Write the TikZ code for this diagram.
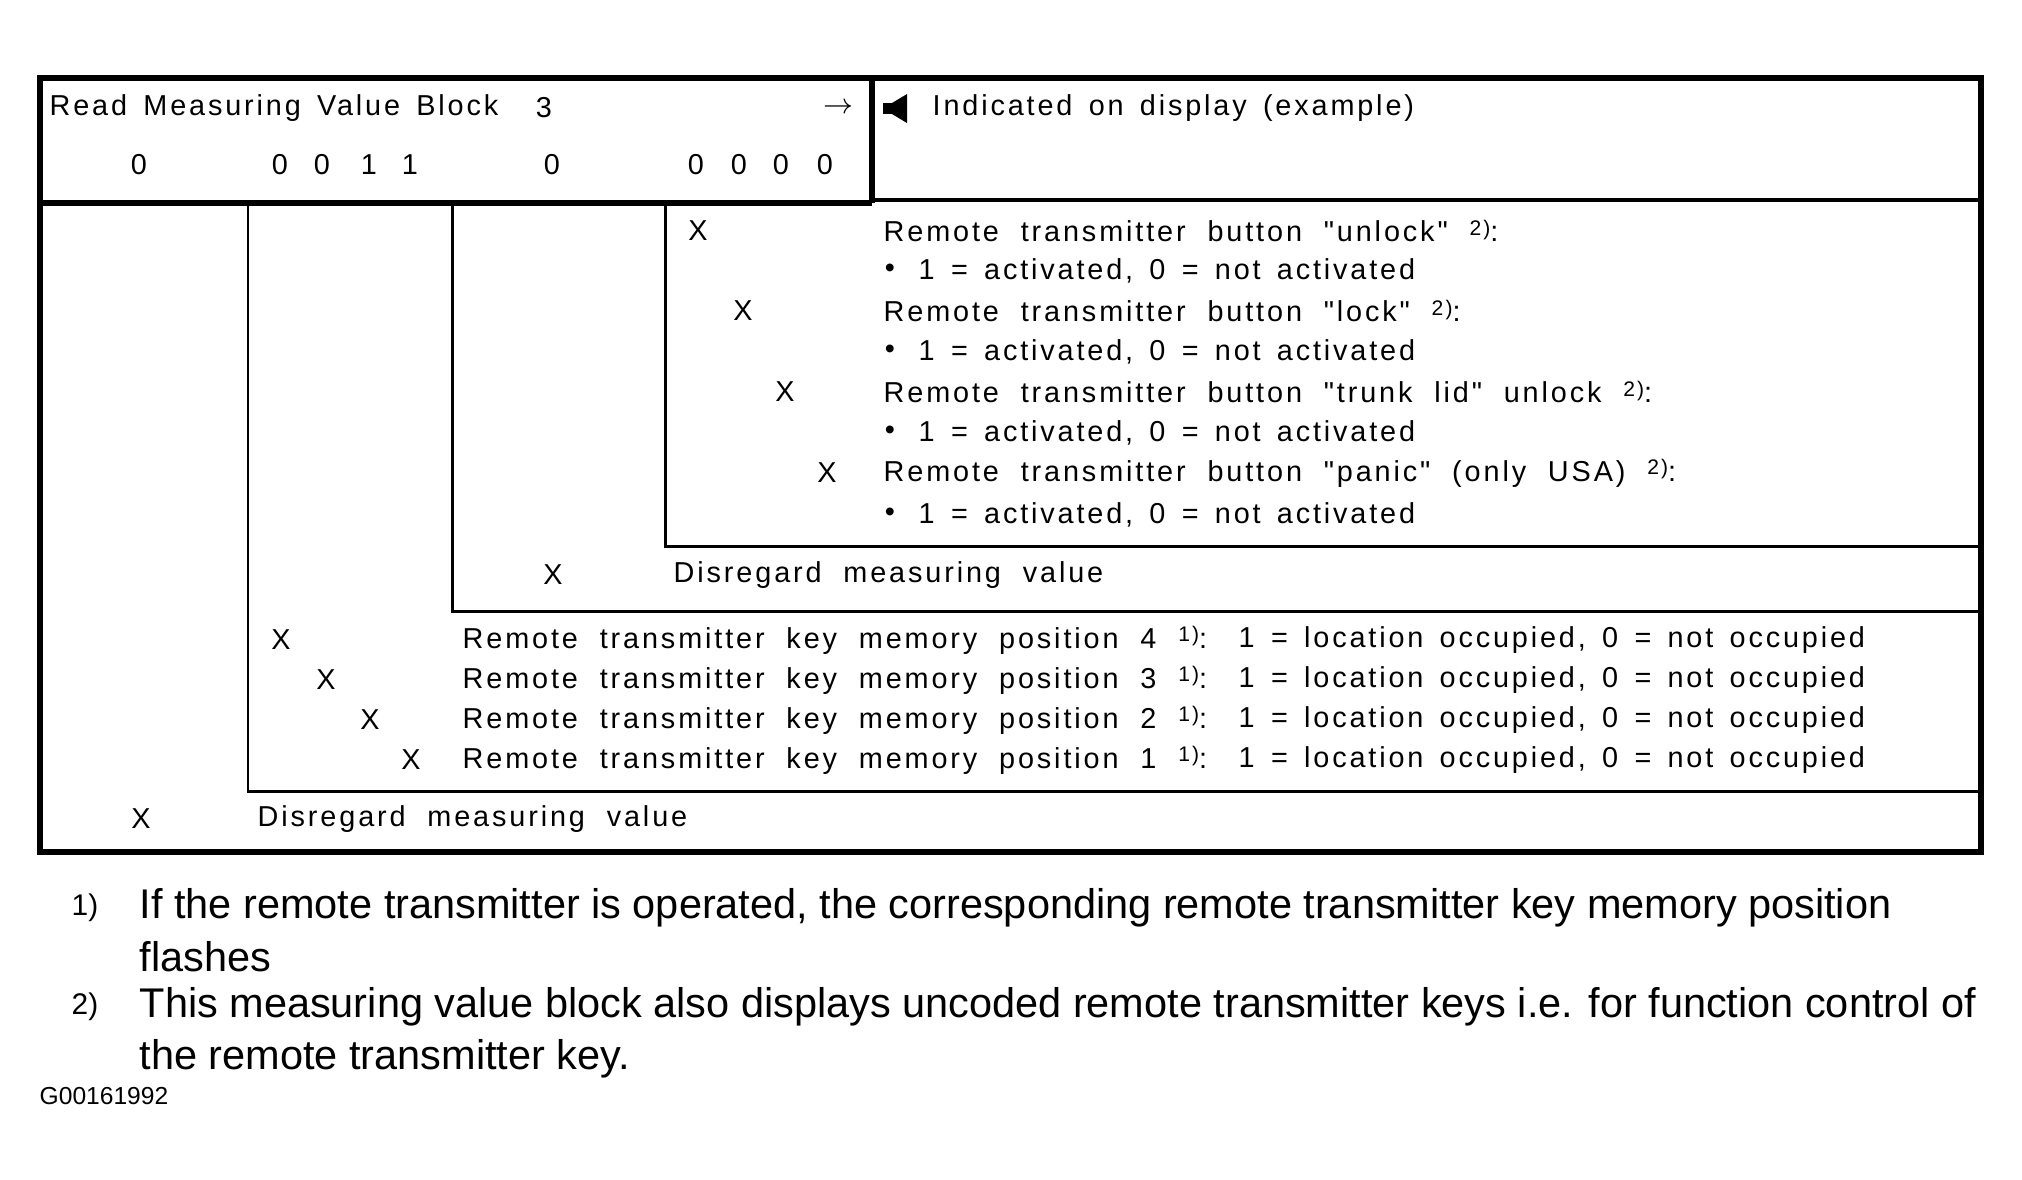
\documentclass[tikz,border=0pt]{standalone}
\usepackage{fontspec}
\setmainfont{Liberation Sans}
\newfontfamily\tabfont[LetterSpace=10,WordSpace=2]{Liberation Sans}
\newfontfamily\tabfontn[LetterSpace=9.9,WordSpace=1.5]{Liberation Sans}
\newcommand{\fnref}[1]{\raisebox{0.45ex}{\fontsize{6}{6}\selectfont #1}}

\begin{document}
\begin{tikzpicture}[>=latex,x=0.1mm,y=-0.1mm,
    tab/.style={font=\tabfont\fontsize{8.2}{10}\selectfont,inner sep=0pt,anchor=west},
    tabn/.style={font=\tabfontn\fontsize{8.2}{10}\selectfont,inner sep=0pt,anchor=west},
    xmark/.style={font=\tabfont\fontsize{8.2}{10}\selectfont,inner sep=0pt},
    note/.style={font=\fontsize{11.8}{14}\selectfont,inner sep=0pt,anchor=west},
    noteref/.style={font=\fontsize{8.5}{9}\selectfont,inner sep=0pt,anchor=west},
    boxline/.style={line width=1.7pt},
    sepline/.style={line width=0.85pt}]
  \useasboundingbox (0,0) rectangle (2022,1179);
  % frame and header
  \draw[boxline] (40,78) rectangle (1981,852);
  \draw[boxline] (40,203) -- (872,203);
  \draw[boxline] (872,78) -- (872,203);
  \draw[line width=1.1pt] (872,200) -- (1981,200);
  % nested brackets
  \draw[sepline] (248,203) -- (248,791) -- (1981,791);
  \draw[sepline] (452,203) -- (452,611) -- (1981,611);
  \draw[sepline] (665,203) -- (665,546) -- (1981,546);
  % header text
  \node[tabn] (title) at (49,108) {Read Measuring Value Block};
  \node[xmark] (blk) at (544,108) {3};
  \node[xmark] (arr) at (838,108) {$\rightarrow$};
  \node[xmark] (d1) at (139,165) {0};
  \node[xmark] (d2) at (280,165) {0};
  \node[xmark] (d3) at (322,165) {0};
  \node[xmark] (d4) at (369,165) {1};
  \node[xmark] (d5) at (410,165) {1};
  \node[xmark] (d6) at (552,165) {0};
  \node[xmark] (d7) at (696,165) {0};
  \node[xmark] (d8) at (739,165) {0};
  \node[xmark] (d9) at (781,165) {0};
  \node[xmark] (d10) at (825,165) {0};
  \fill (883,103) rectangle (893,114);
  \fill (892,103) -- (907,94) -- (907,123) -- (892,114) -- cycle;
  \node[tabn] (disp) at (932,108) {Indicated on display (example)};
  % buttons
  \node[xmark] (xa) at (698,231) {X};
  \node[tab] (unl) at (883,231) {Remote transmitter button "unlock" \fnref{2)}:};
  \node[xmark] (ba) at (890,271) {•};
  \node[tabn] (va) at (918,271) {1 = activated, 0 = not activated};
  \node[xmark] (xb) at (743,311) {X};
  \node[tab] (lck) at (883,311) {Remote transmitter button "lock" \fnref{2)}:};
  \node[xmark] (bb) at (890,352) {•};
  \node[tabn] (vb) at (918,352) {1 = activated, 0 = not activated};
  \node[xmark] (xc) at (785,392) {X};
  \node[tab] (trk) at (883,392) {Remote transmitter button "trunk lid" unlock \fnref{2)}:};
  \node[xmark] (bc) at (890,433) {•};
  \node[tabn] (vc) at (918,433) {1 = activated, 0 = not activated};
  \node[xmark] (xd) at (827,473) {X};
  \node[tab] (pan) at (883,473) {Remote transmitter button "panic" (only USA) \fnref{2)}:};
  \node[xmark] (bd) at (890,515) {•};
  \node[tabn] (vd) at (918,515) {1 = activated, 0 = not activated};
  \node[xmark] (xe) at (553,575) {X};
  \node[tab] (dis1) at (673,575) {Disregard measuring value};
  % key memory positions
  \node[xmark] (xk4) at (281,640) {X};
  \node[tab] (k4) at (462,640) {Remote transmitter key memory position 4 \fnref{1)}:};
  \node[tabn] (o4) at (1238,640) {1 = location occupied, 0 = not occupied};
  \node[xmark] (xk3) at (326,680) {X};
  \node[tab] (k3) at (462,680) {Remote transmitter key memory position 3 \fnref{1)}:};
  \node[tabn] (o3) at (1238,680) {1 = location occupied, 0 = not occupied};
  \node[xmark] (xk2) at (370,720) {X};
  \node[tab] (k2) at (462,720) {Remote transmitter key memory position 2 \fnref{1)}:};
  \node[tabn] (o2) at (1238,720) {1 = location occupied, 0 = not occupied};
  \node[xmark] (xk1) at (411,760) {X};
  \node[tab] (k1) at (462,760) {Remote transmitter key memory position 1 \fnref{1)}:};
  \node[tabn] (o1) at (1238,760) {1 = location occupied, 0 = not occupied};
  \node[xmark] (xf) at (141,819) {X};
  \node[tab] (dis2) at (257,819) {Disregard measuring value};
  % footnotes
  \node[noteref] (r1) at (71,908) {1)};
  \node[note] (n1) at (139,908) {If the remote transmitter is operated, the corresponding remote transmitter key memory position};
  \node[note] (n1b) at (139,957) {flashes};
  \node[noteref] (r2) at (71,1007) {2)};
  \node[note] (n2) at (139,1007) {This measuring value block also displays uncoded remote transmitter keys i.e. for function control of};
  \node[note] (n2b) at (139,1059) {the remote transmitter key.};
  \node[inner sep=0pt,anchor=west,font=\fontsize{7}{8}\selectfont] (fig) at (39,1096) {G00161992};
\end{tikzpicture}
\end{document}
